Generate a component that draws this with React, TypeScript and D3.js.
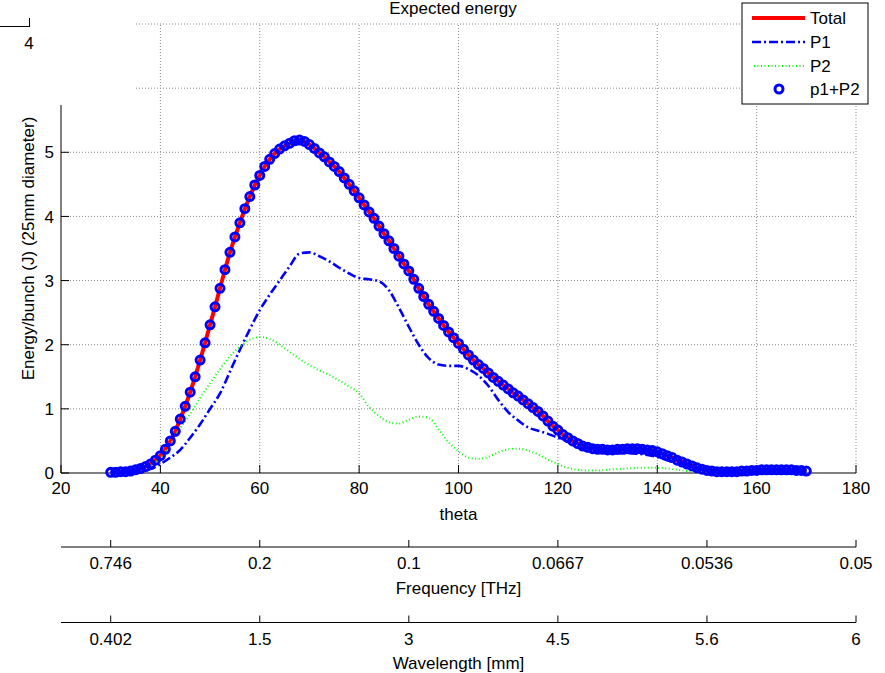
import React from "react";
import * as d3 from "d3";

// ---- data ----
const TOTAL_START = 30;
const TOTAL: number[] = [
  0.01, 0.01, 0.02, 0.02, 0.03, 0.05, 0.07, 0.10, 0.14, 0.20, // 30-39
  0.27, 0.37, 0.50, 0.65, 0.84, 1.04, 1.26, 1.50, 1.76, 2.03, // 40-49
  2.31, 2.59, 2.88, 3.17, 3.44, 3.68, 3.90, 4.12, 4.31, 4.49, // 50-59
  4.64, 4.78, 4.89, 4.98, 5.05, 5.10, 5.14, 5.18, 5.19, 5.17, // 60-69
  5.12, 5.06, 4.99, 4.93, 4.85, 4.78, 4.70, 4.60, 4.50, 4.40, // 70-79
  4.29, 4.18, 4.07, 3.97, 3.85, 3.73, 3.62, 3.50, 3.38, 3.26, // 80-89
  3.15, 3.02, 2.88, 2.75, 2.63, 2.52, 2.41, 2.30, 2.20, 2.11, // 90-99
  2.02, 1.93, 1.84, 1.76, 1.69, 1.63, 1.56, 1.49, 1.43, 1.37, // 100-109
  1.31, 1.25, 1.20, 1.14, 1.08, 1.02, 0.96, 0.89, 0.81, 0.73, // 110-119
  0.67, 0.60, 0.55, 0.50, 0.46, 0.42, 0.40, 0.38, 0.37, 0.37, // 120-129
  0.36, 0.36, 0.37, 0.37, 0.38, 0.38, 0.38, 0.37, 0.36, 0.35, // 130-139
  0.33, 0.30, 0.27, 0.24, 0.20, 0.17, 0.14, 0.11, 0.08, 0.06, // 140-149
  0.04, 0.03, 0.02, 0.02, 0.02, 0.02, 0.02, 0.03, 0.03, 0.04, // 150-159
  0.04, 0.05, 0.05, 0.05, 0.05, 0.05, 0.05, 0.05, 0.04, 0.04, // 160-169
  0.03, // 170
];

const PART_START = 30;
const PART_STEP = 2;
const P1: number[] = [
  0.00, 0.00, 0.00, 0.02, 0.06, 0.14, 0.24, 0.36, 0.55, 0.76, // 30-48
  1.00, 1.24, 1.58, 1.92, 2.24, 2.54, 2.78, 3.00, 3.22, 3.42, // 50-68
  3.44, 3.38, 3.30, 3.20, 3.11, 3.04, 3.02, 2.99, 2.85, 2.58, // 70-88
  2.28, 2.00, 1.79, 1.69, 1.67, 1.67, 1.62, 1.52, 1.36, 1.14, // 90-108
  0.95, 0.82, 0.71, 0.66, 0.61, 0.55, 0.49, 0.41, 0.36, 0.33, // 110-128
  0.31, 0.31, 0.31, 0.30, 0.28, 0.25, 0.20, 0.15, 0.11, 0.07, // 130-148
  0.04, 0.02, 0.02, 0.02, 0.03, 0.04, 0.05, 0.05, 0.05, 0.04, // 150-168
  0.03, // 170
];
const P2: number[] = [
  0.00, 0.00, 0.01, 0.04, 0.11, 0.24, 0.45, 0.70, 0.92, 1.17, // 30-48
  1.40, 1.62, 1.82, 1.97, 2.08, 2.12, 2.09, 2.00, 1.89, 1.78, // 50-68
  1.68, 1.60, 1.53, 1.44, 1.35, 1.24, 1.03, 0.89, 0.79, 0.77, // 70-88
  0.83, 0.88, 0.86, 0.68, 0.48, 0.34, 0.24, 0.22, 0.25, 0.32, // 90-108
  0.37, 0.38, 0.35, 0.29, 0.21, 0.14, 0.08, 0.05, 0.04, 0.04, // 110-128
  0.05, 0.06, 0.07, 0.08, 0.08, 0.08, 0.07, 0.05, 0.03, 0.01, // 130-148
  0.00, 0.00, 0.00, 0.00, 0.00, 0.00, 0.00, 0.00, 0.00, 0.00, // 150-168
  0.00, // 170
];

const X_TICKS = [20, 40, 60, 80, 100, 120, 140, 160, 180];
const Y_TICKS = [0, 1, 2, 3, 4, 5];
const Y_GRID = [1, 2, 3, 4, 5, 6, 7];
const SEC_TICKS = [30, 60, 90, 120, 150, 180];
const FREQ_LABELS = ["0.746", "0.2", "0.1", "0.0667", "0.0536", "0.05"];
const WAVE_LABELS = ["0.402", "1.5", "3", "4.5", "5.6", "6"];
const LEGEND = ["Total", "P1", "P2", "p1+P2"];

const FONT = "'Liberation Sans', Arial, Helvetica, sans-serif";
const FS = 17;

export default function App() {
  const W = 885, H = 673;
  const x = d3.scaleLinear().domain([20, 180]).range([61, 856]);
  const y = d3.scaleLinear().domain([0, 7]).range([473, 24]);

  const totalPts: [number, number][] = TOTAL.map((v, i) => [TOTAL_START + i, v]);
  const p1Pts: [number, number][] = P1.map((v, i) => [PART_START + i * PART_STEP, v]);
  const p2Pts: [number, number][] = P2.map((v, i) => [PART_START + i * PART_STEP, v]);

  const lineLin = d3.line<[number, number]>().x((d) => x(d[0])).y((d) => y(d[1]));
  const lineSmooth = d3
    .line<[number, number]>()
    .x((d) => x(d[0]))
    .y((d) => y(d[1]))
    .curve(d3.curveMonotoneX);

  const gridColor = "#8a8a8a";
  const gridDash = "1,2";
  const tickLen = 8;
  const MR = 4;
  const MW = 3;

  const secAxis = (lineY: number, labels: string[], labelY: number, title: string, titleY: number) => (
    <g>
      <line x1={x(20)} x2={x(180)} y1={lineY} y2={lineY} stroke="#000" strokeWidth={1} />
      {SEC_TICKS.map((t, i) => (
        <g key={t}>
          <line x1={x(t)} x2={x(t)} y1={lineY} y2={lineY - 7} stroke="#000" strokeWidth={1} />
          <text x={x(t)} y={labelY} textAnchor="middle" fontSize={FS} fontFamily={FONT}>
            {labels[i]}
          </text>
        </g>
      ))}
      <text x={(x(20) + x(180)) / 2} y={titleY} textAnchor="middle" fontSize={FS} fontFamily={FONT}>
        {title}
      </text>
    </g>
  );

  const legX = 742, legY = 3, legW = 126, legH = 101;
  const legRowY = [18, 42, 66, 89];

  return (
    <svg width={W} height={H} style={{ position: "absolute", left: 0, top: 0, background: "#fff" }}>
      <rect x={0} y={0} width={W} height={H} fill="#fff" />
      {/* grid */}
      {Y_GRID.map((v) => (
        <line key={"gy" + v} x1={x(20)} x2={x(180)} y1={y(v)} y2={y(v)} stroke={gridColor} strokeDasharray={gridDash} strokeWidth={1} />
      ))}
      {X_TICKS.filter((t) => t > 20).map((t) => (
        <line key={"gx" + t} x1={x(t)} x2={x(t)} y1={y(0)} y2={y(7)} stroke={gridColor} strokeDasharray={gridDash} strokeWidth={1} />
      ))}
      {/* axes */}
      <line x1={x(20)} x2={x(180)} y1={y(0)} y2={y(0)} stroke="#000" strokeWidth={1} />
      <line x1={x(20)} x2={x(20)} y1={y(0)} y2={y(7)} stroke="#000" strokeWidth={1} />
      {X_TICKS.map((t) => (
        <g key={"xt" + t}>
          <line x1={x(t)} x2={x(t)} y1={y(0)} y2={y(0) - tickLen} stroke="#000" strokeWidth={1} />
          <text x={x(t)} y={494} textAnchor="middle" fontSize={FS} fontFamily={FONT}>
            {t}
          </text>
        </g>
      ))}
      {Y_TICKS.map((v) => (
        <g key={"yt" + v}>
          <line x1={x(20)} x2={x(20) + tickLen} y1={y(v)} y2={y(v)} stroke="#000" strokeWidth={1} />
          <text x={54} y={y(v)} dy="0.36em" textAnchor="end" fontSize={FS} fontFamily={FONT}>
            {v}
          </text>
        </g>
      ))}
      {/* series */}
      <path d={lineLin(totalPts) || ""} fill="none" stroke="#ff0000" strokeWidth={4} strokeLinejoin="round" />
      <path d={lineSmooth(p1Pts.filter((d) => d[0] >= 34)) || ""} fill="none" stroke="#0000ff" strokeWidth={2.6} strokeDasharray="9,3,2,3" />
      <path d={lineSmooth(p2Pts.filter((d) => d[0] >= 32 && d[0] <= 150)) || ""} fill="none" stroke="#00ff00" strokeWidth={2} strokeDasharray="1,2.5" />
      {totalPts.map((d) => (
        <circle key={"m" + d[0]} cx={x(d[0])} cy={y(d[1])} r={MR} fill="none" stroke="#0000ff" strokeWidth={MW} />
      ))}
      {/* axis labels */}
      <text x={(x(20) + x(180)) / 2} y={520} textAnchor="middle" fontSize={FS} fontFamily={FONT}>
        theta
      </text>
      {/* covering white region top-left */}
      <rect x={0} y={0} width={135} height={105} fill="#fff" />
      <line x1={0} x2={30} y1={26.5} y2={26.5} stroke="#000" strokeWidth={1} />
      <line x1={29.5} x2={29.5} y1={18} y2={27} stroke="#000" strokeWidth={1} />
      <text x={29} y={49} textAnchor="middle" fontSize={FS} fontFamily={FONT}>
        4
      </text>
      <text
        transform={`translate(34, ${(y(0) + y(7)) / 2}) rotate(-90)`}
        textAnchor="middle"
        fontSize={FS}
        fontFamily={FONT}
      >
        Energy/bunch (J) (25mm diameter)
      </text>
      <text x={453} y={14} textAnchor="middle" fontSize={FS} fontFamily={FONT}>
        Expected energy
      </text>
      {secAxis(547, FREQ_LABELS, 569, "Frequency [THz]", 594)}
      {secAxis(622.5, WAVE_LABELS, 645, "Wavelength [mm]", 669)}
      {/* legend */}
      <rect x={legX} y={legY} width={legW} height={legH} fill="#fff" stroke="#000" strokeWidth={1} />
      <line x1={752} x2={805} y1={legRowY[0]} y2={legRowY[0]} stroke="#ff0000" strokeWidth={4} />
      <line x1={752} x2={805} y1={legRowY[1]} y2={legRowY[1]} stroke="#0000ff" strokeWidth={2.6} strokeDasharray="9,3,2,3" />
      <line x1={754} x2={805} y1={legRowY[2]} y2={legRowY[2]} stroke="#00ff00" strokeWidth={2} strokeDasharray="1,2.5" />
      <circle cx={779} cy={legRowY[3]} r={MR} fill="none" stroke="#0000ff" strokeWidth={MW} />
      {LEGEND.map((l, i) => (
        <text key={l} x={810} y={legRowY[i]} dy="0.36em" fontSize={FS} fontFamily={FONT}>
          {l}
        </text>
      ))}
    </svg>
  );
}
